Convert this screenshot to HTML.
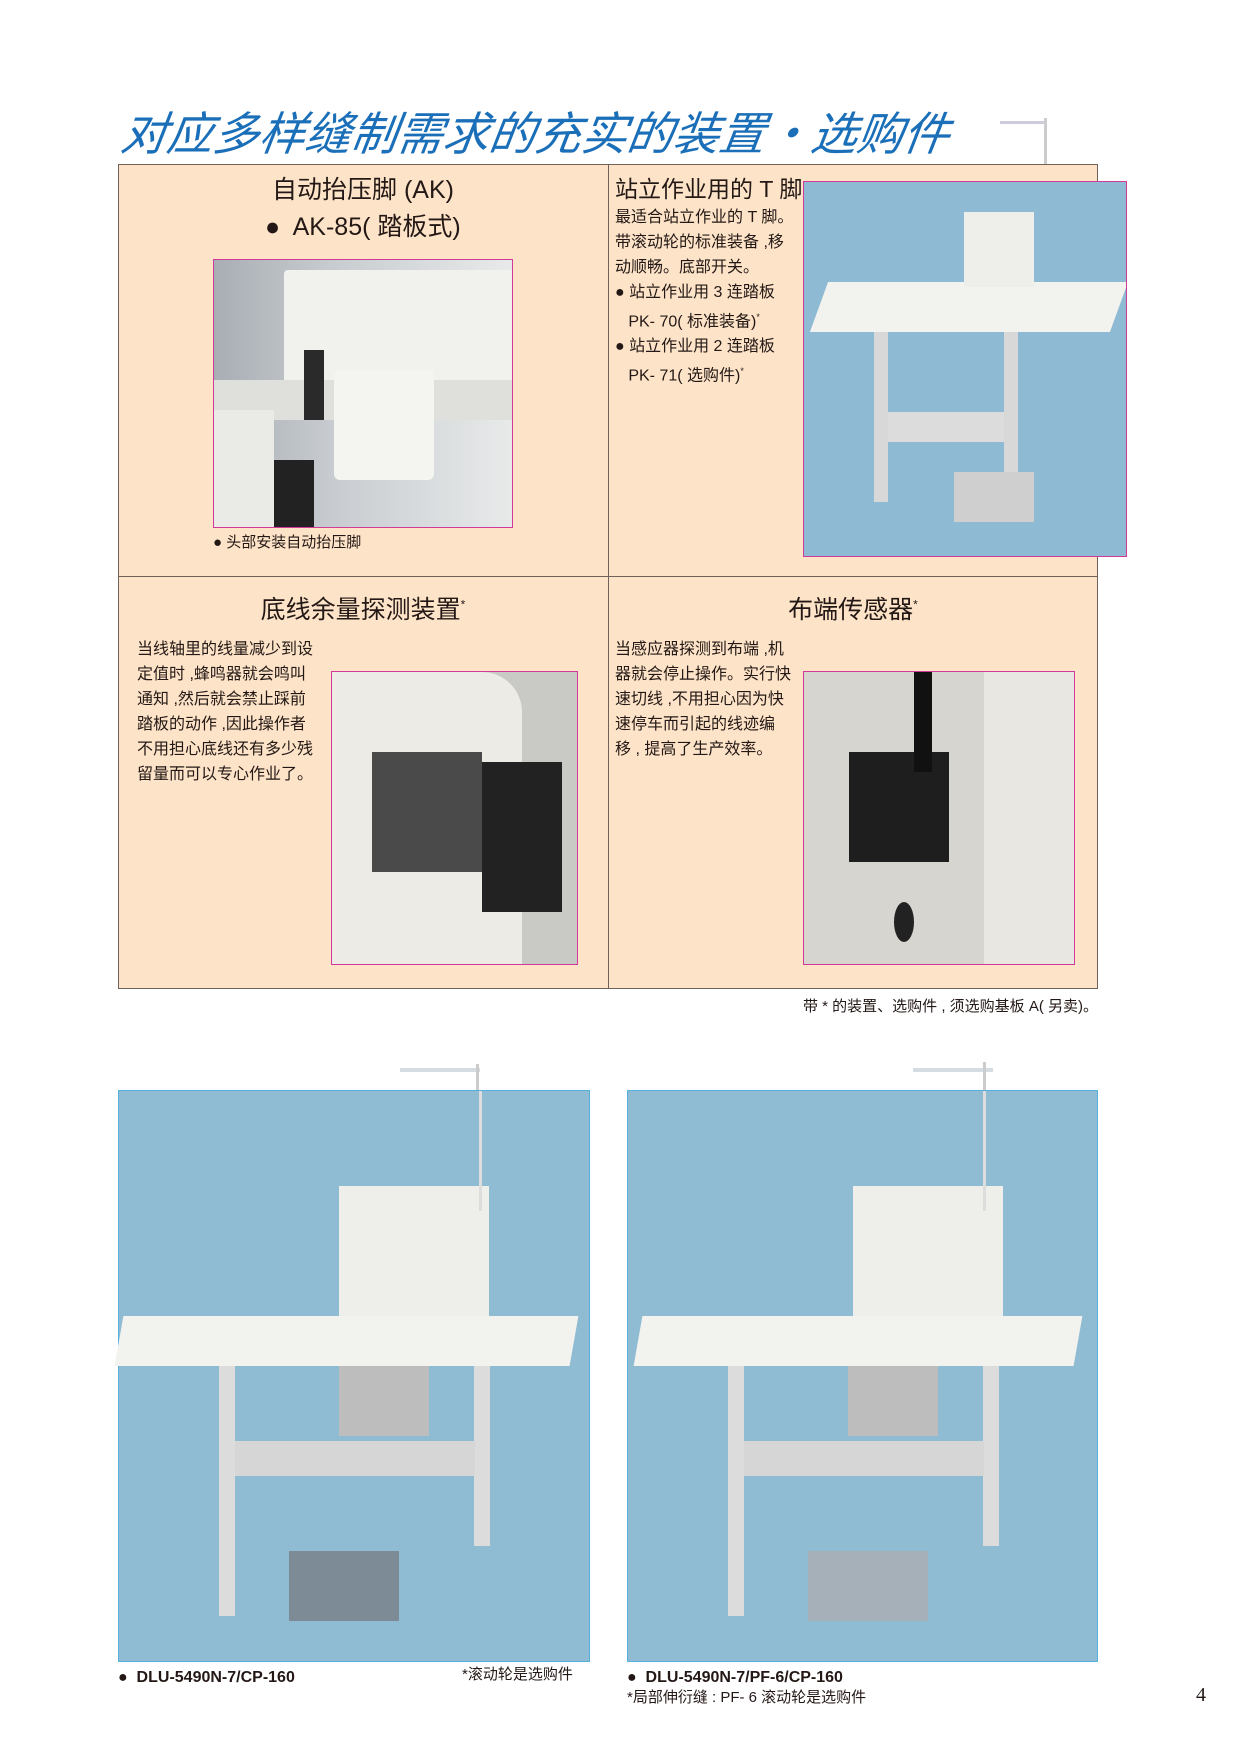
<!DOCTYPE html>
<html><head><meta charset="utf-8">
<style>
*{margin:0;padding:0;box-sizing:border-box}
body{width:1240px;height:1752px;background:#fff;position:relative;overflow:hidden;font-family:"Liberation Sans","Noto Sans CJK SC",sans-serif;color:#231815}
.a{position:absolute}
.t{font-size:16px;line-height:25px;white-space:nowrap}
.h{font-size:25px;white-space:nowrap}
.ph{position:absolute;border:1px solid #d23a9a;overflow:hidden}
</style></head><body>
<div class="a" style="left:122px;top:98px;font-size:46px;color:#1a6fb8;font-style:italic;font-family:'Noto Sans CJK SC',sans-serif;white-space:nowrap;transform:skewX(-8deg)">对应多样缝制需求的充实的装置・选购件</div>
<div class="a" style="left:1000px;top:121px;width:45px;height:3px;background:#ccd"></div>
<div class="a" style="left:1044px;top:118px;width:3px;height:64px;background:#ccc"></div>

<div class="a" style="left:118px;top:164px;width:980px;height:825px;background:#fde3c8;border:1px solid #6e6259"></div>
<div class="a" style="left:608px;top:164px;width:1px;height:825px;background:#6e6259"></div>
<div class="a" style="left:118px;top:576px;width:980px;height:1px;background:#6e6259"></div>

<div class="a h" style="left:118px;width:490px;text-align:center;top:170px">自动抬压脚 (AK)</div>
<div class="a h" style="left:265px;top:207px">●&nbsp; AK-85( 踏板式)</div>
<div class="ph" style="left:213px;top:259px;width:300px;height:269px;background:linear-gradient(90deg,#a8aeb4,#c8ccd0 40%,#e8eaea)">
 <div class="a" style="left:70px;top:10px;width:230px;height:150px;background:#f1f1ed;border-radius:4px"></div>
 <div class="a" style="left:0;top:120px;width:300px;height:40px;background:#dfe0dc"></div>
 <div class="a" style="left:120px;top:110px;width:100px;height:110px;background:#f4f4f0;border-radius:6px"></div>
 <div class="a" style="left:0;top:150px;width:60px;height:120px;background:#eaeae6"></div>
 <div class="a" style="left:60px;top:200px;width:40px;height:70px;background:#222"></div>
 <div class="a" style="left:90px;top:90px;width:20px;height:70px;background:#2a2a2a"></div>
</div>
<div class="a t" style="left:213px;top:530px;font-size:15px">● 头部安装自动抬压脚</div>

<div class="a h" style="left:615px;top:170px;font-size:23px">站立作业用的 T 脚</div>
<div class="a t" style="left:615px;top:205px">最适合站立作业的 T 脚。<br>带滚动轮的标准装备 ,移<br>动顺畅。底部开关。<br>● 站立作业用 3 连踏板<br>&nbsp;&nbsp;&nbsp;PK- 70( 标准装备)<sup style="font-size:9px">*</sup><br>● 站立作业用 2 连踏板<br>&nbsp;&nbsp;&nbsp;PK- 71( 选购件)<sup style="font-size:9px">*</sup></div>
<div class="ph" style="left:803px;top:181px;width:324px;height:376px;background:#8fbad3">
 <div class="a" style="left:15px;top:100px;width:300px;height:50px;background:#f2f2ee;transform:skewX(-20deg)"></div>
 <div class="a" style="left:160px;top:30px;width:70px;height:75px;background:#eeeeea"></div>
 <div class="a" style="left:70px;top:150px;width:14px;height:170px;background:#d8d8d8"></div>
 <div class="a" style="left:200px;top:150px;width:14px;height:150px;background:#d8d8d8"></div>
 <div class="a" style="left:84px;top:230px;width:116px;height:30px;background:#dcdcdc"></div>
 <div class="a" style="left:150px;top:290px;width:80px;height:50px;background:#cfcfcf"></div>
</div>

<div class="a h" style="left:118px;width:490px;text-align:center;top:590px">底线余量探测装置<sup style="font-size:12px">*</sup></div>
<div class="a h" style="left:608px;width:490px;text-align:center;top:590px">布端传感器<sup style="font-size:12px">*</sup></div>
<div class="a t" style="left:137px;top:637px">当线轴里的线量减少到设<br>定值时 ,蜂鸣器就会鸣叫<br>通知 ,然后就会禁止踩前<br>踏板的动作 ,因此操作者<br>不用担心底线还有多少残<br>留量而可以专心作业了。</div>
<div class="a t" style="left:615px;top:637px">当感应器探测到布端 ,机<br>器就会停止操作。实行快<br>速切线 ,不用担心因为快<br>速停车而引起的线迹编<br>移 , 提高了生产效率。</div>
<div class="ph" style="left:331px;top:671px;width:247px;height:294px;background:#c9c9c6">
 <div class="a" style="left:0;top:0;width:190px;height:294px;background:#ecebe5;border-radius:0 40px 0 0"></div>
 <div class="a" style="left:40px;top:80px;width:110px;height:120px;background:#4a4a4a"></div>
 <div class="a" style="left:150px;top:90px;width:80px;height:150px;background:#222"></div>
</div>
<div class="ph" style="left:803px;top:671px;width:272px;height:294px;background:#d6d5d0">
 <div class="a" style="left:180px;top:0;width:92px;height:294px;background:#e8e7e2"></div>
 <div class="a" style="left:45px;top:80px;width:100px;height:110px;background:#1e1e1e"></div>
 <div class="a" style="left:110px;top:0;width:18px;height:100px;background:#111"></div>
 <div class="a" style="left:90px;top:230px;width:20px;height:40px;background:#222;border-radius:50%"></div>
</div>
<div class="a t" style="right:142px;top:994px;font-size:15px">带 * 的装置、选购件 , 须选购基板 A( 另卖)。</div>

<div class="a" style="left:400px;top:1068px;width:80px;height:4px;background:#d6dde2"></div>
<div class="a" style="left:476px;top:1064px;width:3px;height:30px;background:#ccc"></div>
<div class="a" style="left:913px;top:1068px;width:80px;height:4px;background:#d6dde2"></div>
<div class="a" style="left:983px;top:1062px;width:3px;height:30px;background:#ccc"></div>
<div class="a" style="left:118px;top:1090px;width:472px;height:572px;background:#8fbbd3;border:1px solid #56b0dc">
 <div class="a" style="left:0;top:225px;width:455px;height:50px;background:#f2f2ee;transform:skewX(-10deg)"></div>
 <div class="a" style="left:220px;top:95px;width:150px;height:130px;background:#eeeeea"></div>
 <div class="a" style="left:360px;top:0;width:3px;height:120px;background:#ddd"></div>
 <div class="a" style="left:100px;top:275px;width:16px;height:250px;background:#dcdcdc"></div>
 <div class="a" style="left:355px;top:275px;width:16px;height:180px;background:#dcdcdc"></div>
 <div class="a" style="left:116px;top:350px;width:240px;height:35px;background:#d6d6d6"></div>
 <div class="a" style="left:220px;top:275px;width:90px;height:70px;background:#bdbdbd"></div>
 <div class="a" style="left:170px;top:460px;width:110px;height:70px;background:#7d8b97"></div>
</div>
<div class="a" style="left:627px;top:1090px;width:471px;height:572px;background:#8fbbd3;border:1px solid #56b0dc">
 <div class="a" style="left:10px;top:225px;width:440px;height:50px;background:#f2f2ee;transform:skewX(-10deg)"></div>
 <div class="a" style="left:225px;top:95px;width:150px;height:130px;background:#eeeeea"></div>
 <div class="a" style="left:355px;top:0;width:3px;height:120px;background:#ddd"></div>
 <div class="a" style="left:100px;top:275px;width:16px;height:250px;background:#dcdcdc"></div>
 <div class="a" style="left:355px;top:275px;width:16px;height:180px;background:#dcdcdc"></div>
 <div class="a" style="left:116px;top:350px;width:240px;height:35px;background:#d6d6d6"></div>
 <div class="a" style="left:220px;top:275px;width:90px;height:70px;background:#bdbdbd"></div>
 <div class="a" style="left:180px;top:460px;width:120px;height:70px;background:#a6b0b8"></div>
</div>

<div class="a t" style="left:118px;top:1665px;font-weight:bold;font-size:16px">●&nbsp; DLU-5490N-7/CP-160</div>
<div class="a t" style="left:462px;top:1662px;font-size:15px">*滚动轮是选购件</div>
<div class="a t" style="left:627px;top:1665px;font-weight:bold;font-size:16px">●&nbsp; DLU-5490N-7/PF-6/CP-160</div>
<div class="a t" style="left:627px;top:1685px;font-size:15px">*局部伸衍缝 : PF- 6 滚动轮是选购件</div>
<div class="a" style="left:1196px;top:1684px;font-size:20px;font-family:'Liberation Serif',serif">4</div>
</body></html>
